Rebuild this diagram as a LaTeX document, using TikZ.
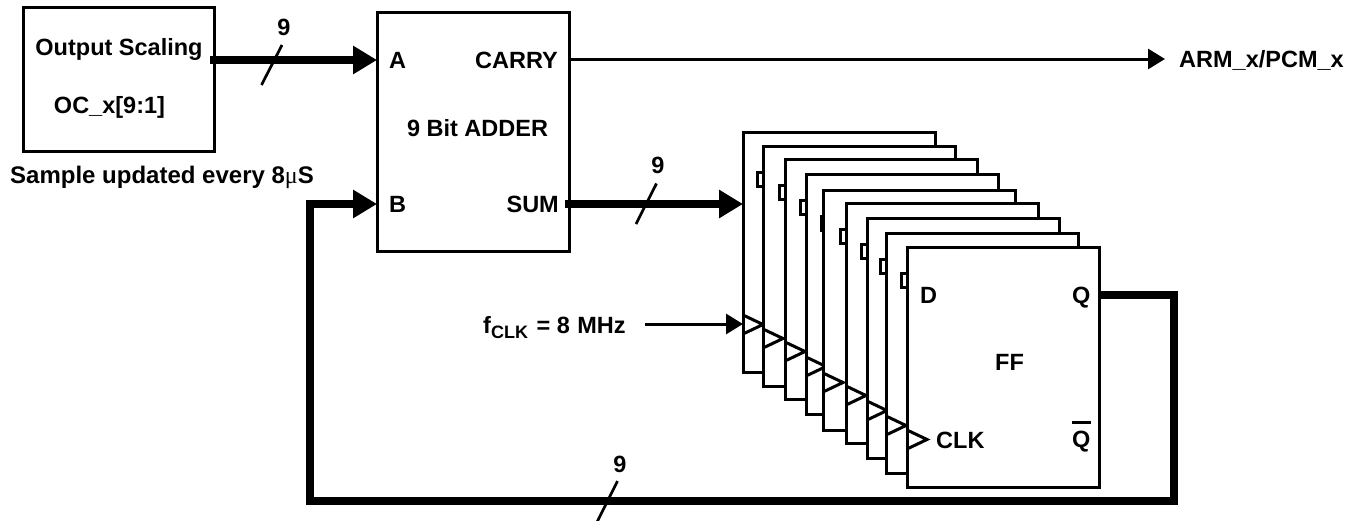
\documentclass[tikz,border=0pt]{standalone}
\usepackage{fontspec}
\setmainfont{Liberation Sans}
\newfontfamily\mufont{Liberation Serif}
\usetikzlibrary{arrows.meta}

\begin{document}
\begin{tikzpicture}[
  x=1pt,
  y=-1pt,
  every node/.style={font=\fontsize{23.5}{28}\selectfont\bfseries},
  block/.style={draw, fill=white, line width=3pt, inner sep=0pt, outer sep=0pt, anchor=north west},
  lbl/.style={anchor=base, inner sep=0pt},
  lblw/.style={anchor=base west, inner sep=0pt},
  lble/.style={anchor=base east, inner sep=0pt},
  bus/.style={line width=8pt, -{Triangle[length=24pt, width=27pt]}},
  thick bus/.style={line width=8pt, miter limit=10},
  wire/.style={line width=3pt, -{Triangle[length=17pt, width=20pt]}},
  slash/.style={line width=2.7pt},
  clkmark/.style={line width=3pt, line join=miter},
  stub/.style={line width=3pt}
]
  \useasboundingbox (0,0) rectangle (1362,520);

  % ================= output scaling and adder ===========================
  \node[block, minimum width=191pt, minimum height=143.5pt] (oscale) at (23,7.5) {};
  \node[lbl] (oscaletop) at (119,55) {Output Scaling};
  \node[lbl] (oscalebot) at (109.5,113) {OC\_x[9:1]};
  \node[lblw, font=\fontsize{24}{28}\selectfont\bfseries] (sample) at (10,183)
    {Sample updated every 8{\mufont\mdseries μ}S};

  \node[block, minimum width=192pt, minimum height=239pt] (adder) at (377,12) {};
  \node[lblw] (porta) at (389,68) {A};
  \node[lblw] (portb) at (389,212) {B};
  \node[lble] (carry) at (558,68) {CARRY};
  \node[lble] (sum) at (559,212) {SUM};
  \node[lbl] (addername) at (477.5,136) {9 Bit ADDER};

  % ================= the stack of flip-flops ============================
  % left edge / top edge / width of the stub on the left side
  \foreach \n/\l/\t/\w in {1/743/132/0, 2/763/146/5.5, 3/785/159/5.5,
      4/806/174/5.5, 5/823/190/1.5, 6/846/203/5.5, 7/867/218/5.5,
      8/886/233/5.5, 9/907/247/5.5} {
    \node[block, minimum width=192pt, minimum height=240pt] (ff\n) at (\l,\t) {};
    \draw[stub] (\l-\w,\t+26.5) rectangle (\l,\t+40.5);
    \draw[clkmark] (\l,\t+183) -- (\l+20,\t+192.5) -- (\l,\t+202);
  }

  \node[lblw] (ffd) at (920,303) {D};
  \node[lblw] (ffq) at (1072,303) {Q};
  \node[lblw] (ffname) at (995,370) {FF};
  \node[lblw] (ffclk) at (936,448) {CLK};
  \node[lblw] (ffqbar) at (1072,447) {Q};
  \draw[line width=3pt] (ffqbar.north west |- 0,422.5) -- ++(19,0);

  % ================= the connections ====================================
  \coordinate (oscaleout) at (210,60);
  \coordinate (carryout) at (569,59);
  \coordinate (armin) at (1165,59);
  \coordinate (sumout) at (565,204);
  \coordinate (clkin) at (645,324);
  \coordinate (qout) at (1100,295);
  \coordinate (loopright) at (1174,295);
  \coordinate (loopcorner) at (1174,501);
  \coordinate (loopleft) at (310,501);
  \coordinate (loopup) at (310,204);

  \draw[bus] (oscaleout) -- (oscaleout -| adder.west);
  \draw[wire] (carryout) -- (armin);
  \node[lblw] (armlabel) at (1179,67) {ARM\_x/PCM\_x};
  \draw[bus] (sumout) -- (sumout -| ff1.west);
  \draw[wire] (clkin) -- (clkin -| ff1.west);
  \node[lblw] (fclk) at (483,333)
    {f\raisebox{-5pt}{\fontsize{18}{20}\selectfont CLK}\kern2pt{} = 8\kern1pt{} MHz};

  \draw[thick bus] (qout) -- (loopright) -- (loopcorner) -- (loopleft) -- (loopup);
  \draw[bus, shorten <=-4pt] (loopup) -- (loopup -| adder.west);

  % the bus width marks
  \node[lbl] (buswidtha) at (284,35) {9};
  \draw[slash] (282,45) -- (261.5,85);
  \node[lbl] (buswidthb) at (658,173) {9};
  \draw[slash] (656.5,183.5) -- (636,224);
  \node[lbl] (buswidthc) at (620,472) {9};
  \draw[slash] (617.5,481) -- (597,522);
\end{tikzpicture}
\end{document}
